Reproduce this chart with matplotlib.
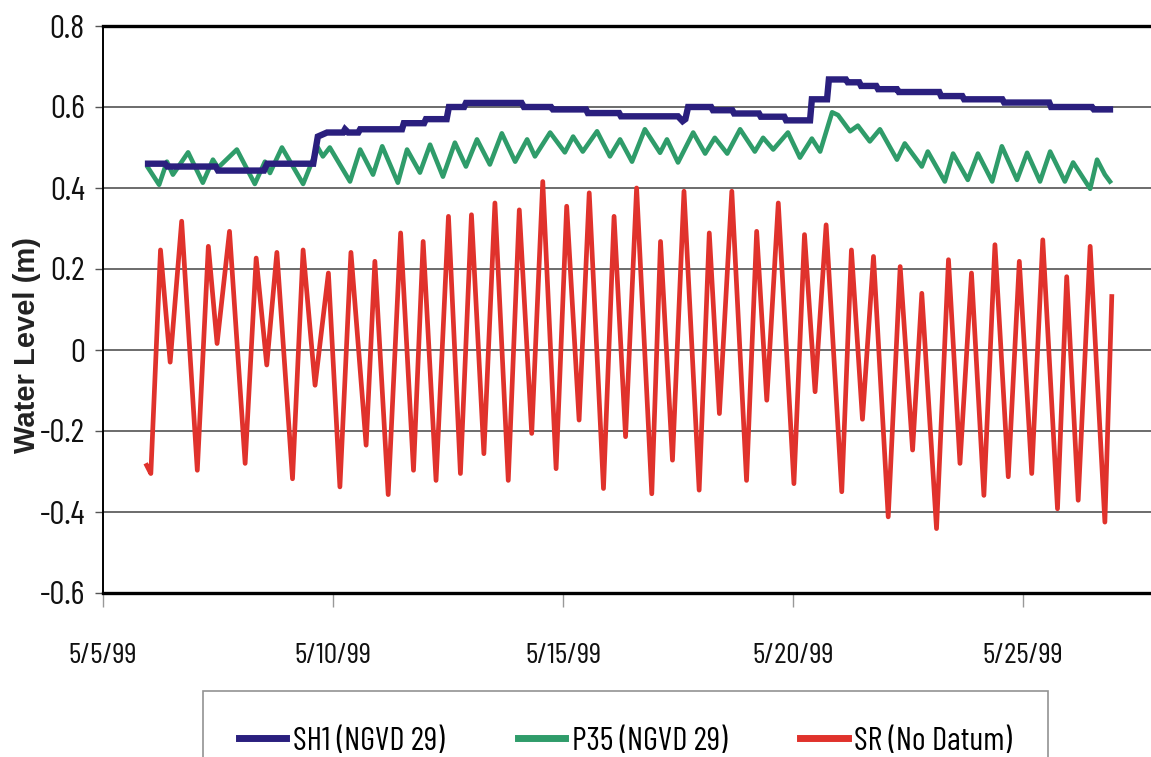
import matplotlib
matplotlib.use("Agg")
import matplotlib.pyplot as plt

# ---- data (x = day of May 1999) ----
sh1_day = [5.98, 6.35, 6.40, 7.45, 7.50, 8.50, 8.57, 9.57, 9.67, 9.87, 10.22, 10.26, 10.33,
           10.55, 10.59, 11.50, 11.54, 11.98, 12.02, 12.47, 12.52, 12.85, 12.89, 14.10,
           14.15, 14.74, 14.78, 15.50, 15.54, 16.22, 16.26, 17.50, 17.60, 17.66, 17.72,
           18.22, 18.26, 18.68, 18.72, 19.26, 19.30, 19.81, 19.85, 20.37, 20.41, 20.74,
           20.78, 21.15, 21.19, 21.44, 21.48, 21.81, 21.85, 22.26, 22.30, 23.18, 23.22,
           23.68, 23.72, 24.55, 24.59, 25.57, 25.61, 26.50, 26.54, 26.89]
sh1_val = [0.460, 0.460, 0.453, 0.453, 0.443, 0.443, 0.460, 0.460, 0.527, 0.537, 0.537, 0.545, 0.537,
           0.537, 0.545, 0.545, 0.560, 0.560, 0.570, 0.570, 0.600, 0.600, 0.610, 0.610,
           0.600, 0.600, 0.594, 0.594, 0.585, 0.585, 0.577, 0.577, 0.565, 0.570, 0.600,
           0.600, 0.592, 0.592, 0.584, 0.584, 0.576, 0.576, 0.567, 0.567, 0.619, 0.619,
           0.668, 0.668, 0.661, 0.661, 0.652, 0.652, 0.644, 0.644, 0.637, 0.637, 0.627,
           0.627, 0.619, 0.619, 0.611, 0.611, 0.600, 0.600, 0.594, 0.594]

p35_day = [5.98, 6.22, 6.39, 6.52, 6.85, 7.17, 7.39, 7.50, 7.91, 8.30, 8.52, 8.63, 8.89, 9.35,
           9.67, 9.78, 9.93, 10.37, 10.59, 10.87, 11.07, 11.41, 11.61, 11.89, 12.11, 12.39,
           12.65, 12.89, 13.13, 13.41, 13.67, 13.96, 14.22, 14.39, 14.72, 15.04, 15.22,
           15.43, 15.74, 16.02, 16.24, 16.50, 16.78, 17.11, 17.26, 17.50, 17.83, 18.09,
           18.30, 18.57, 18.85, 19.17, 19.35, 19.57, 19.89, 20.15, 20.41, 20.59, 20.85,
           20.98, 21.24, 21.41, 21.67, 21.89, 22.26, 22.43, 22.80, 22.93, 23.30, 23.48,
           23.80, 24.02, 24.33, 24.54, 24.87, 25.09, 25.37, 25.59, 25.91, 26.09, 26.46,
           26.61, 26.78, 26.89]
p35_val = [0.450, 0.408, 0.465, 0.433, 0.488, 0.413, 0.470, 0.450, 0.495, 0.410, 0.465, 0.437, 0.500, 0.410,
           0.500, 0.478, 0.500, 0.416, 0.495, 0.433, 0.503, 0.413, 0.495, 0.438, 0.507, 0.428,
           0.512, 0.453, 0.520, 0.458, 0.535, 0.465, 0.520, 0.478, 0.537, 0.488, 0.527,
           0.490, 0.540, 0.478, 0.520, 0.465, 0.545, 0.487, 0.520, 0.463, 0.537, 0.485,
           0.524, 0.485, 0.545, 0.490, 0.524, 0.495, 0.537, 0.475, 0.522, 0.490, 0.587,
           0.580, 0.540, 0.554, 0.515, 0.545, 0.470, 0.510, 0.453, 0.490, 0.416, 0.485,
           0.420, 0.485, 0.416, 0.503, 0.420, 0.487, 0.416, 0.490, 0.416, 0.463, 0.398,
           0.470, 0.433, 0.416]

sr_day = [5.95, 6.04, 6.25, 6.46, 6.71, 7.05, 7.29, 7.48, 7.75, 8.09, 8.33, 8.56, 8.78, 9.12,
          9.35, 9.61, 9.90, 10.15, 10.39, 10.72, 10.91, 11.20, 11.47, 11.75, 11.96, 12.24,
          12.51, 12.77, 13.01, 13.28, 13.52, 13.81, 14.05, 14.32, 14.56, 14.85, 15.08,
          15.35, 15.57, 15.88, 16.11, 16.36, 16.60, 16.93, 17.12, 17.38, 17.63, 17.96,
          18.18, 18.40, 18.67, 18.99, 19.21, 19.43, 19.68, 20.02, 20.25, 20.48, 20.72,
          21.06, 21.27, 21.51, 21.75, 22.07, 22.33, 22.60, 22.80, 23.12, 23.38, 23.63,
          23.88, 24.15, 24.39, 24.68, 24.92, 25.19, 25.43, 25.75, 25.95, 26.20, 26.46,
          26.78, 26.93]
sr_val = [-0.285, -0.305, 0.247, -0.030, 0.318, -0.297, 0.256, 0.016, 0.293, -0.280, 0.227, -0.037, 0.241, -0.318,
          0.247, -0.087, 0.190, -0.338, 0.241, -0.235, 0.219, -0.357, 0.289, -0.297, 0.268, -0.322,
          0.330, -0.305, 0.334, -0.256, 0.363, -0.322, 0.346, -0.206, 0.416, -0.293, 0.355,
          -0.173, 0.388, -0.342, 0.330, -0.214, 0.400, -0.355, 0.268, -0.272, 0.392, -0.346,
          0.289, -0.157, 0.392, -0.322, 0.293, -0.124, 0.363, -0.330, 0.285, -0.103, 0.309,
          -0.350, 0.247, -0.171, 0.231, -0.412, 0.206, -0.247, 0.140, -0.441, 0.223, -0.280,
          0.190, -0.359, 0.260, -0.313, 0.219, -0.305, 0.272, -0.392, 0.181, -0.371, 0.256,
          -0.425, 0.132]

series_labels = ["SH1 (NGVD 29)", "P35 (NGVD 29)", "SR (No Datum)"]
series_colors = ["#2a1f7e", "#2f9c6a", "#e0322c"]
x_ticks = [5, 10, 15, 20, 25]
x_tick_labels = ["5/5/99", "5/10/99", "5/15/99", "5/20/99", "5/25/99"]
y_ticks = [-0.6, -0.4, -0.2, 0, 0.2, 0.4, 0.6, 0.8]
y_tick_labels = ["-0.6", "-0.4", "-0.2", "0", "0.2", "0.4", "0.6", "0.8"]
y_label = "Water Level (m)"

# ---- figure ----
W, H = 1151, 757
fig = plt.figure(figsize=(W / 100, H / 100), dpi=100)
narrow = ["Barlow Condensed", "Archivo Narrow", "DejaVu Sans"]

ax = fig.add_axes([103 / W, 1 - 593 / H, 1 - 103 / W, (593 - 26) / H])
ax.set_xlim(5, 5 + (W - 103) / 46.0)
ax.set_ylim(-0.6, 0.8)

l1, = ax.plot(sh1_day, sh1_val, color=series_colors[0], lw=4.6, solid_joinstyle="miter", zorder=4)
l2, = ax.plot(p35_day, p35_val, color=series_colors[1], lw=3.3, solid_joinstyle="round", zorder=3)
l3, = ax.plot(sr_day, sr_val, color=series_colors[2], lw=3.4, solid_joinstyle="round", zorder=2)

ax.set_yticks(y_ticks)
ax.set_yticklabels(y_tick_labels, family=narrow, fontsize=24, color="#111111")
ax.set_xticks(x_ticks)
ax.set_xticklabels(x_tick_labels, family=narrow, fontsize=21.5, color="#111111")
ax.tick_params(axis="y", direction="out", length=6, width=1, color="#555555", pad=7)
ax.tick_params(axis="x", direction="out", length=10, width=1, color="#999999", pad=26)

ax.grid(axis="y", color="#444444", lw=1.1)
ax.set_axisbelow(True)
for side in ["top", "bottom"]:
    ax.spines[side].set_linewidth(2.4)
    ax.spines[side].set_color("black")
ax.spines["left"].set_linewidth(1.4)
ax.spines["right"].set_visible(False)

fig.text(27 / W, 1 - 345 / H, y_label, rotation=90, ha="center", va="center",
         family=["Liberation Sans", "DejaVu Sans"], fontsize=21, fontweight="bold",
         color="#222222")

leg = fig.legend([l1, l2, l3], series_labels, loc="upper left", ncol=3, mode="expand",
                 bbox_to_anchor=(203 / W, 1 - 691 / H - 0.1, (1048 - 203) / W, 0.1),
                 bbox_transform=fig.transFigure, frameon=True, fancybox=False,
                 edgecolor="#777777", prop={"family": narrow, "size": 23.5},
                 handlelength=1.45, handletextpad=0.2, borderpad=1.1, borderaxespad=0.0,
                 columnspacing=1.0)
leg.get_frame().set_linewidth(1.2)
for h in leg.legend_handles:
    h.set_linewidth(5.0)

fig.savefig("out.png", dpi=100)
